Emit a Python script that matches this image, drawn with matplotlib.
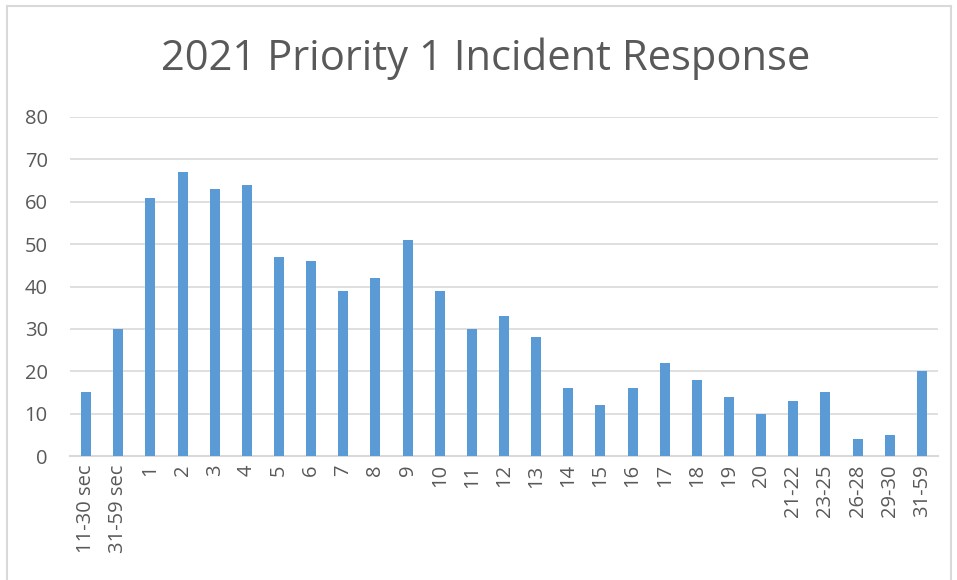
import matplotlib
matplotlib.use("Agg")
import matplotlib.pyplot as plt
from matplotlib.lines import Line2D

categories = ["11-30 sec", "31-59 sec", "1", "2", "3", "4", "5", "6", "7", "8", "9",
              "10", "11", "12", "13", "14", "15", "16", "17", "18", "19", "20",
              "21-22", "23-25", "26-28", "29-30", "31-59"]
counts = [15, 30, 61, 67, 63, 64, 47, 46, 39, 42, 51, 39, 30, 33, 28, 16, 12, 16,
          22, 18, 14, 10, 13, 15, 4, 5, 20]
y_ticks = [0, 10, 20, 30, 40, 50, 60, 70, 80]

BAR = "#5b9bd5"
TEXT = "#595959"
GRID = "#d9d9d9"

plt.rcParams["font.family"] = ["Open Sans", "DejaVu Sans"]

fig = plt.figure(figsize=(9.57, 5.8), dpi=100)
W, H = 957, 580
ax = fig.add_axes([70 / W, (H - 456) / H, (938 - 70) / W, (456 - 117) / H])

x = range(len(categories))
ax.bar(x, counts, width=0.31, color=BAR, zorder=3)
ax.set_xlim(-0.5, len(categories) - 0.5)
ax.set_ylim(0, 80)
ax.set_yticks(y_ticks)
ax.set_xticks(list(x))
ax.set_xticklabels(categories, rotation=90, fontsize=14.5, color=TEXT)
ax.tick_params(axis="y", labelsize=14.5, labelcolor=TEXT, length=0, pad=16)
ax.tick_params(axis="x", length=0, pad=6)
ax.grid(True, axis="y", color=GRID, linewidth=1.2, zorder=0)
for s in ["top", "right", "left"]:
    ax.spines[s].set_visible(False)
ax.spines["bottom"].set_color(GRID)
ax.spines["bottom"].set_linewidth(1.5)

fig.text(486 / W, 1 - 59 / H, "2021 Priority 1 Incident Response", ha="center",
         va="center", fontsize=30, color=TEXT)

# chart frame
fc = "#d9d9d9"
fig.add_artist(Line2D([7 / W, 7 / W], [0, 1 - 6 / H], color=fc, lw=1.5,
                      transform=fig.transFigure))
fig.add_artist(Line2D([7 / W, 951 / W], [1 - 6 / H, 1 - 6 / H], color=fc, lw=1.5,
                      transform=fig.transFigure))
fig.add_artist(Line2D([951 / W, 951 / W], [0, 1 - 6 / H], color=fc, lw=1.5,
                      transform=fig.transFigure))

fig.savefig("out.png", dpi=100)
